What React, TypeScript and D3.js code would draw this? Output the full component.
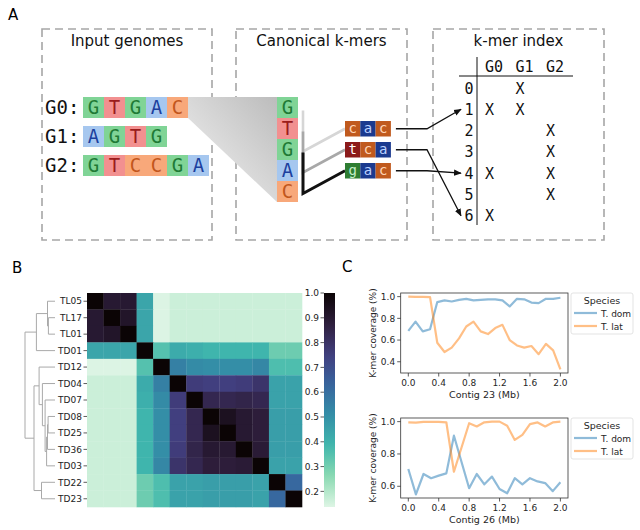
import React from "react";
import * as d3 from "d3";

// ---------- panel A data ----------
const genomeNames = ["G0", "G1", "G2"];
const genomeSeqs = ["GTGAC", "AGTG", "GTCCGA"];
const canonicalSeq = "GTGAC";
const kmers = ["cac", "tca", "gac"];
const kmerTargets = [1, 6, 4];
const indexRows = ["0", "1", "2", "3", "4", "5", "6"];
const indexCols = ["G0", "G1", "G2"];
const indexHits = [[1], [0, 1], [2], [2], [0, 2], [2], [0]];

// ---------- panel B data ----------
const heatLabels = ["TL05", "TL17", "TL01", "TD01", "TD12", "TD04", "TD07", "TD08", "TD25", "TD36", "TD03", "TD22", "TD23"];
const heatValues = [
  [1, 0.9, 0.9, 0.44, 0.14, 0.165, 0.165, 0.165, 0.165, 0.165, 0.165, 0.165, 0.165],
  [0.9, 1, 0.92, 0.44, 0.14, 0.165, 0.165, 0.165, 0.165, 0.165, 0.165, 0.165, 0.165],
  [0.9, 0.92, 1, 0.44, 0.14, 0.165, 0.165, 0.165, 0.165, 0.165, 0.165, 0.165, 0.165],
  [0.44, 0.44, 0.44, 1, 0.35, 0.42, 0.41, 0.39, 0.39, 0.39, 0.39, 0.31, 0.31],
  [0.14, 0.14, 0.14, 0.35, 1, 0.55, 0.52, 0.51, 0.51, 0.51, 0.53, 0.36, 0.36],
  [0.165, 0.165, 0.165, 0.42, 0.55, 1, 0.76, 0.75, 0.75, 0.76, 0.79, 0.45, 0.45],
  [0.165, 0.165, 0.165, 0.41, 0.52, 0.76, 1, 0.84, 0.84, 0.85, 0.84, 0.45, 0.45],
  [0.165, 0.165, 0.165, 0.39, 0.51, 0.75, 0.84, 1, 0.94, 0.9, 0.88, 0.46, 0.46],
  [0.165, 0.165, 0.165, 0.39, 0.51, 0.75, 0.84, 0.94, 1, 0.9, 0.88, 0.46, 0.46],
  [0.165, 0.165, 0.165, 0.39, 0.51, 0.76, 0.85, 0.9, 0.9, 1, 0.89, 0.46, 0.46],
  [0.165, 0.165, 0.165, 0.39, 0.53, 0.79, 0.84, 0.88, 0.88, 0.89, 1, 0.45, 0.45],
  [0.165, 0.165, 0.165, 0.31, 0.36, 0.45, 0.45, 0.46, 0.46, 0.46, 0.45, 1, 0.62],
  [0.165, 0.165, 0.165, 0.31, 0.36, 0.45, 0.45, 0.46, 0.46, 0.46, 0.45, 0.62, 1],
];
const colorbarTicks = [0.2, 0.3, 0.4, 0.5, 0.6, 0.7, 0.8, 0.9, 1.0];
// [left, right, height]; new nodes numbered from 13
const linkage = [
  [1, 2, 0.22],
  [0, 13, 0.25],
  [7, 8, 0.23],
  [15, 9, 0.25],
  [16, 10, 0.28],
  [6, 17, 0.33],
  [5, 18, 0.42],
  [11, 12, 0.45],
  [4, 19, 0.53],
  [14, 3, 0.62],
  [21, 20, 0.7],
  [22, 23, 1.0],
];

// ---------- panel C data ----------
const contig23X = [0, 0.095, 0.19, 0.286, 0.381, 0.476, 0.571, 0.667, 0.762, 0.857, 0.952, 1.048, 1.143, 1.238, 1.333, 1.429, 1.524, 1.619, 1.714, 1.81, 1.905, 2.0];
const contig23Dom = [0.685, 0.77, 0.68, 0.7, 0.95, 0.966, 0.955, 0.97, 0.98, 0.965, 0.97, 0.975, 0.975, 0.965, 0.91, 0.98, 0.975, 0.945, 0.94, 0.98, 0.98, 0.99];
const contig23Lat = [1.0, 0.998, 0.998, 0.995, 0.575, 0.49, 0.53, 0.615, 0.725, 0.77, 0.68, 0.655, 0.71, 0.74, 0.6, 0.55, 0.53, 0.545, 0.47, 0.565, 0.505, 0.33];
const contig26X = [0, 0.1, 0.2, 0.3, 0.4, 0.5, 0.6, 0.7, 0.8, 0.9, 1.0, 1.1, 1.2, 1.3, 1.4, 1.5, 1.6, 1.7, 1.8, 1.9, 2.0];
const contig26Dom = [0.707, 0.55, 0.676, 0.65, 0.666, 0.68, 0.913, 0.75, 0.588, 0.676, 0.612, 0.66, 0.583, 0.557, 0.65, 0.612, 0.65, 0.63, 0.62, 0.57, 0.625];
const contig26Lat = [0.996, 0.994, 0.998, 0.998, 0.998, 0.996, 0.69, 0.84, 0.99, 0.97, 0.996, 1.0, 1.0, 0.975, 0.887, 0.918, 0.985, 0.995, 0.97, 0.995, 1.0];
const xTicks = [0, 0.4, 0.8, 1.2, 1.6, 2.0];
const species = ["T. dom", "T. lat"];

const baseFill: Record<string, string> = { G: "#80d496", T: "#f29090", A: "#a6c7ef", C: "#f8a87a" };
const baseText: Record<string, string> = { G: "#1f7a35", T: "#9b1c1c", A: "#1c3f9e", C: "#c2561c" };
const kmerFill: Record<string, string> = { g: "#2e7d32", t: "#8b1a1a", a: "#1b3a8f", c: "#c05a1e" };
const kmerText: Record<string, string> = { g: "#c4efc8", t: "#ffffff", a: "#bcd2ff", c: "#ffd6b8" };
const MONO = "DejaVu Sans Mono";

const mako = d3
  .scaleLinear<string>()
  .domain([0, 0.143, 0.286, 0.429, 0.571, 0.714, 0.857, 1])
  .range(["#0b0405", "#2e1e3c", "#413e7e", "#37659e", "#348fa7", "#40b7ad", "#8bdab2", "#def5e5"])
  .interpolate(d3.interpolateRgb);
const vmin = 0.137;
const vmax = 1.0;
const heatColor = (v: number) => mako(1 - (v - vmin) / (vmax - vmin));

function PanelA() {
  const cell = 21;
  const rowTop = d3.scaleLinear().domain([0, 1]).range([97, 126]);
  const cellX = d3.scaleLinear().domain([0, 1]).range([83, 83 + cell]);
  const colX = 277;
  const colY = d3.scaleLinear().domain([0, 1]).range([97, 97 + cell]);
  const kW = 15.3;
  const kH = 15.5;
  const kX = 345;
  const kY = d3.scaleLinear().domain([0, 1]).range([121, 142]);
  const idxY = d3.scaleLinear().domain([0, 1]).range([88, 109.3]);
  const idxColX = d3.scaleLinear().domain([0, 1]).range([485, 515.5]);
  const bracketColors = ["#d6d6d6", "#a8a8a8", "#111111"];
  const boxes: [number, number, string][] = [
    [42, 212, "Input genomes"],
    [236, 407, "Canonical k-mers"],
    [433, 604, "k-mer index"],
  ];
  const lastX = cellX(genomeSeqs[0].length);

  return (
    <g>
      <defs>
        <linearGradient id="funnel" x1="0" y1="1" x2="1" y2="0">
          <stop offset="0" stopColor="#f4f4f4" />
          <stop offset="1" stopColor="#bcbcbc" />
        </linearGradient>
        <marker id="arr" viewBox="0 0 10 10" refX="9" refY="5" markerWidth="6" markerHeight="6" orient="auto">
          <path d="M0,1 L10,5 L0,9 z" fill="#111" />
        </marker>
      </defs>
      <text x={8} y={20} fontSize={15}>A</text>
      {boxes.map(([x0, x1, title]) => (
        <g key={title}>
          <rect x={x0} y={29} width={x1 - x0} height={211} fill="none" stroke="#a6a6a6" strokeWidth={1.6} strokeDasharray="8 5" />
          <text x={(x0 + x1) / 2} y={46} textAnchor="middle" fontSize={15} fill="#111">{title}</text>
        </g>
      ))}

      {/* funnel from G0 to canonical column */}
      <path
        d={`M${lastX},${rowTop(0)} L${colX},${colY(0)} L${colX},${colY(canonicalSeq.length)} L${lastX},${rowTop(0) + cell} Z`}
        fill="url(#funnel)"
      />

      {genomeSeqs.map((seq, i) => (
        <g key={i}>
          <text x={45} y={rowTop(i) + 17.4} fontFamily={MONO} fontSize={19} fill="#111">{genomeNames[i]}:</text>
          {seq.split("").map((b, j) => (
            <g key={j}>
              <rect x={cellX(j)} y={rowTop(i)} width={cell} height={cell} fill={baseFill[b]} />
              <text x={cellX(j) + cell / 2} y={rowTop(i) + 17.4} textAnchor="middle" fontFamily={MONO} fontSize={19} fill={baseText[b]}>{b}</text>
            </g>
          ))}
        </g>
      ))}

      {canonicalSeq.split("").map((b, j) => (
        <g key={j}>
          <rect x={colX} y={colY(j)} width={cell} height={cell} fill={baseFill[b]} />
          <text x={colX + cell / 2} y={colY(j) + 17.4} textAnchor="middle" fontFamily={MONO} fontSize={19} fill={baseText[b]}>{b}</text>
        </g>
      ))}

      {kmers.map((k, i) => {
        const y1 = colY(i) + 13.5;
        const y2 = colY(i + 2) + 12.5;
        const ky = kY(i) + kH / 2;
        return (
          <polyline key={i} points={`303,${y1} 303,${y2} ${kX},${ky}`} fill="none" stroke={bracketColors[i]} strokeWidth={i === 2 ? 3 : 2.6} />
        );
      })}

      {kmers.map((k, i) => (
        <g key={k}>
          {k.split("").map((b, j) => (
            <g key={j}>
              <rect x={kX + j * kW} y={kY(i)} width={kW} height={kH} fill={kmerFill[b]} />
              <text x={kX + j * kW + kW / 2} y={kY(i) + 12} textAnchor="middle" fontFamily={MONO} fontSize={14} fill={kmerText[b]}>{b}</text>
            </g>
          ))}
          <polyline
            points={`${kX + 3 * kW + 5},${kY(i) + kH / 2} 427,${kY(i) + kH / 2} 461,${idxY(kmerTargets[i])}`}
            fill="none"
            stroke="#111"
            strokeWidth={1.3}
            markerEnd="url(#arr)"
          />
        </g>
      ))}

      {/* k-mer index table */}
      <line x1={477} x2={477} y1={57} y2={225} stroke="#111" strokeWidth={1} />
      <line x1={459} x2={573} y1={76} y2={76} stroke="#111" strokeWidth={1} />
      {indexCols.map((c, j) => (
        <text key={c} x={idxColX(j)} y={72} fontFamily={MONO} fontSize={15} fill="#111">{c}</text>
      ))}
      {indexRows.map((r, i) => (
        <g key={r}>
          <text x={469} y={idxY(i) + 5.5} textAnchor="middle" fontFamily={MONO} fontSize={15} fill="#111">{r}</text>
          {indexHits[i].map((c) => (
            <text key={c} x={idxColX(c)} y={idxY(i) + 5.5} fontFamily={MONO} fontSize={15} fill="#111">X</text>
          ))}
        </g>
      ))}
    </g>
  );
}

function PanelB() {
  const x = d3.scaleBand<string>().domain(heatLabels).range([87, 302]);
  const y = d3.scaleBand<string>().domain(heatLabels).range([293, 507]);
  const cb = d3.scaleLinear().domain([vmin, vmax]).range([507, 293]);
  const hx = d3.scaleLinear().domain([0, 1]).range([55, 25]);
  const pos: { x: number; y: number }[] = heatLabels.map((l) => ({ x: hx(0), y: (y(l) ?? 0) + y.bandwidth() / 2 }));
  const links = linkage.map(([a, b, h]) => {
    const pa = pos[a];
    const pb = pos[b];
    const nx = hx(h);
    pos.push({ x: nx, y: (pa.y + pb.y) / 2 });
    return `M${pa.x},${pa.y} H${nx} V${pb.y} H${pb.x}`;
  });
  const gradStops = d3.range(0, 1.0001, 0.05);

  return (
    <g>
      <defs>
        <linearGradient id="cbar" x1="0" y1="1" x2="0" y2="0">
          {gradStops.map((t) => (
            <stop key={t} offset={t} stopColor={heatColor(vmin + t * (vmax - vmin))} />
          ))}
        </linearGradient>
      </defs>
      <text x={12} y={273} fontSize={15}>B</text>
      {links.map((d, i) => (
        <path key={i} d={d} fill="none" stroke="#a9a9a9" strokeWidth={1} />
      ))}
      {heatValues.map((row, i) =>
        row.map((v, j) => (
          <rect
            key={`${i}-${j}`}
            x={x(heatLabels[j])}
            y={y(heatLabels[i])}
            width={x.bandwidth() + 0.3}
            height={y.bandwidth() + 0.3}
            fill={heatColor(v)}
          />
        ))
      )}
      {heatLabels.map((l) => {
        const cy = (y(l) ?? 0) + y.bandwidth() / 2;
        return (
          <g key={l}>
            <line x1={83.5} x2={87} y1={cy} y2={cy} stroke="#333" strokeWidth={0.8} />
            <text x={82} y={cy + 3.2} textAnchor="end" fontSize={9} fill="#222">{l}</text>
          </g>
        );
      })}
      <rect x={324} y={293} width={11} height={214} fill="url(#cbar)" />
      {colorbarTicks.map((t) => (
        <g key={t}>
          <line x1={320.5} x2={324} y1={cb(t)} y2={cb(t)} stroke="#333" strokeWidth={0.8} />
          <text x={319} y={cb(t) + 3.2} textAnchor="end" fontSize={9} fill="#222">{t.toFixed(1)}</text>
        </g>
      ))}
    </g>
  );
}

function Coverage({ xs, dom, lat, top, yTicks, xLabel }: {
  xs: number[]; dom: number[]; lat: number[]; top: number; yTicks: number[]; xLabel: string;
}) {
  const left = 400.7;
  const right = 568;
  const bottom = top + 80;
  const [ymin, ymax] = d3.extent([...dom, ...lat]) as [number, number];
  const pad = (ymax - ymin) * 0.05;
  const x = d3.scaleLinear().domain([-0.1, 2.1]).range([left, right]);
  const y = d3.scaleLinear().domain([ymin - pad, ymax + pad]).range([bottom, top]);
  const colors = ["#1f77b4", "#ff7f0e"];
  const series = [dom, lat];
  const line = (vals: number[]) =>
    d3.line<number>().x((_, i) => x(xs[i])).y((v) => y(v))(vals) ?? "";
  const lx = 571;

  return (
    <g>
      {series.map((s, k) => (
        <path key={k} d={line(s)} fill="none" stroke={colors[k]} strokeOpacity={0.5} strokeWidth={2.2} strokeLinejoin="round" />
      ))}
      <rect x={left} y={top} width={right - left} height={80} fill="none" stroke="#333" strokeWidth={0.8} />
      {xTicks.map((t) => (
        <g key={t}>
          <line x1={x(t)} x2={x(t)} y1={bottom} y2={bottom + 3.5} stroke="#333" strokeWidth={0.8} />
          <text x={x(t)} y={bottom + 13} textAnchor="middle" fontSize={9} fill="#262626">{t.toFixed(1)}</text>
        </g>
      ))}
      {yTicks.map((t) => (
        <g key={t}>
          <line x1={left - 3.5} x2={left} y1={y(t)} y2={y(t)} stroke="#333" strokeWidth={0.8} />
          <text x={left - 5.5} y={y(t) + 3.2} textAnchor="end" fontSize={9} fill="#262626">{t.toFixed(1)}</text>
        </g>
      ))}
      <text x={(left + right) / 2} y={bottom + 25} textAnchor="middle" fontSize={9.5} fill="#262626">{xLabel}</text>
      <text transform={`translate(376,${top + 40}) rotate(-90)`} textAnchor="middle" fontSize={9} fill="#262626">K-mer coverage (%)</text>
      <rect x={lx} y={top} width={62} height={41} rx={2} fill="#fff" stroke="#dcdcdc" strokeWidth={0.8} />
      <text x={lx + 31} y={top + 11} textAnchor="middle" fontSize={9.5} fill="#262626">Species</text>
      {species.map((s, k) => (
        <g key={s}>
          <line x1={lx + 3} x2={lx + 26} y1={top + 20 + k * 13} y2={top + 20 + k * 13} stroke={colors[k]} strokeOpacity={0.5} strokeWidth={2.2} />
          <text x={lx + 30} y={top + 23.5 + k * 13} fontSize={9} fill="#262626">{s}</text>
        </g>
      ))}
    </g>
  );
}

function PanelC() {
  return (
    <g>
      <text x={342} y={272} fontSize={15}>C</text>
      <Coverage xs={contig23X} dom={contig23Dom} lat={contig23Lat} top={293} yTicks={[0.4, 0.6, 0.8, 1.0]} xLabel="Contig 23 (Mb)" />
      <Coverage xs={contig26X} dom={contig26Dom} lat={contig26Lat} top={418} yTicks={[0.6, 0.8, 1.0]} xLabel="Contig 26 (Mb)" />
    </g>
  );
}

export default function App() {
  return (
    <svg
      width={640}
      height={530}
      viewBox="0 0 640 530"
      style={{ position: "absolute", left: 0, top: 0, background: "#fff" }}
      fontFamily="DejaVu Sans"
    >
      <PanelA />
      <PanelB />
      <PanelC />
    </svg>
  );
}
